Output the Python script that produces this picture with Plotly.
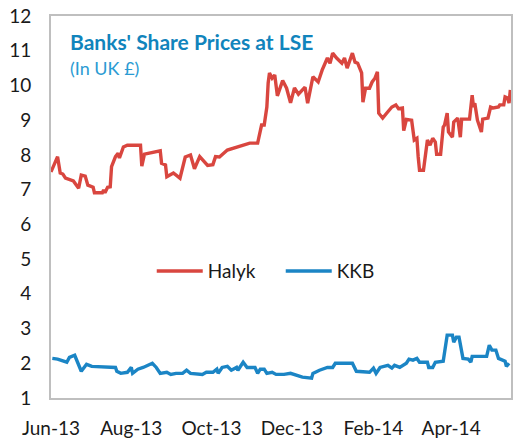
import plotly.graph_objects as go

halyk_dates = [
    "2013-06-01", "2013-06-06", "2013-06-08", "2013-06-10", "2013-06-12", "2013-06-18",
    "2013-06-22", "2013-06-24", "2013-06-27", "2013-06-29", "2013-07-03", "2013-07-04",
    "2013-07-10", "2013-07-11", "2013-07-12", "2013-07-14", "2013-07-16", "2013-07-17",
    "2013-07-20", "2013-07-22", "2013-07-23", "2013-07-26", "2013-07-29", "2013-08-08",
    "2013-08-09", "2013-08-11", "2013-08-23", "2013-08-24", "2013-08-27", "2013-08-28",
    "2013-09-02", "2013-09-07", "2013-09-11", "2013-09-15", "2013-09-18", "2013-09-22",
    "2013-09-28", "2013-10-02", "2013-10-04", "2013-10-07", "2013-10-13", "2013-10-20",
    "2013-10-24", "2013-10-30", "2013-11-05", "2013-11-06", "2013-11-08", "2013-11-10",
    "2013-11-12", "2013-11-13", "2013-11-14", "2013-11-16", "2013-11-18", "2013-11-20",
    "2013-11-24", "2013-11-27", "2013-11-30", "2013-12-03", "2013-12-06", "2013-12-11",
    "2013-12-13", "2013-12-17", "2013-12-21", "2013-12-24", "2013-12-28", "2013-12-30",
    "2014-01-01", "2014-01-04", "2014-01-08", "2014-01-10", "2014-01-12", "2014-01-16",
    "2014-01-18", "2014-01-20", "2014-01-23", "2014-01-24", "2014-01-26", "2014-01-29",
    "2014-01-31", "2014-02-02", "2014-02-04", "2014-02-05", "2014-02-08", "2014-02-11",
    "2014-02-15", "2014-02-18", "2014-02-20", "2014-02-23", "2014-02-24", "2014-02-26",
    "2014-03-02", "2014-03-04", "2014-03-06", "2014-03-07", "2014-03-08", "2014-03-11",
    "2014-03-12", "2014-03-14", "2014-03-16", "2014-03-18", "2014-03-20", "2014-03-21",
    "2014-03-24", "2014-03-26", "2014-03-27", "2014-03-29", "2014-03-30", "2014-04-02",
    "2014-04-03", "2014-04-06", "2014-04-08", "2014-04-09", "2014-04-15", "2014-04-17",
    "2014-04-18", "2014-04-19", "2014-04-21", "2014-04-24", "2014-04-25", "2014-04-29",
    "2014-05-01", "2014-05-03", "2014-05-07", "2014-05-08", "2014-05-11", "2014-05-12",
    "2014-05-14", "2014-05-15", "2014-05-16",
]
halyk_values = [
    7.51, 7.95, 7.48, 7.45, 7.33, 7.25,
    7.04, 7.42, 7.39, 7.13, 7.07, 6.91,
    6.91, 6.99, 6.91, 7.07, 7.08, 7.66,
    7.95, 8.05, 7.91, 8.23, 8.28, 8.28,
    7.68, 8.02, 8.12, 7.76, 7.71, 7.37,
    7.48, 7.33, 7.94, 8.00, 7.60, 7.95,
    7.70, 7.72, 7.95, 7.94, 8.14, 8.22,
    8.25, 8.34, 8.34, 8.50, 8.86, 8.86,
    9.38, 10.07, 10.36, 10.21, 10.30, 9.70,
    10.14, 9.92, 9.50, 9.93, 9.75, 9.95,
    9.49, 10.25, 10.10, 10.44, 10.79, 10.64,
    10.93, 10.79, 10.64, 10.79, 10.50, 10.93,
    10.67, 10.64, 10.36, 9.52, 9.92, 9.92,
    10.10, 10.20, 10.39, 9.20, 9.06, 9.20,
    9.38, 9.44, 9.33, 9.35, 8.70, 9.02,
    9.00, 8.43, 8.48, 7.94, 7.56, 7.56,
    7.85, 8.43, 8.28, 8.48, 8.37, 8.02,
    8.02, 8.80, 8.86, 9.20, 8.66, 8.51,
    8.95, 9.06, 8.51, 9.03, 9.03, 9.72,
    9.38, 9.49, 9.00, 8.66, 9.03, 9.06,
    9.38, 9.35, 9.38, 9.44, 9.44, 9.67,
    9.64, 9.49, 9.87,
]

kkb_dates = [
    "2013-06-02", "2013-06-06", "2013-06-13", "2013-06-15", "2013-06-19", "2013-06-21",
    "2013-06-24", "2013-06-28", "2013-07-02", "2013-07-20", "2013-07-21", "2013-07-24",
    "2013-07-29", "2013-08-01", "2013-08-02", "2013-08-06", "2013-08-10", "2013-08-17",
    "2013-08-20", "2013-08-23", "2013-08-28", "2013-08-31", "2013-09-04", "2013-09-09",
    "2013-09-12", "2013-09-15", "2013-09-24", "2013-09-27", "2013-10-02", "2013-10-05",
    "2013-10-06", "2013-10-09", "2013-10-13", "2013-10-16", "2013-10-20", "2013-10-21",
    "2013-10-25", "2013-10-28", "2013-11-03", "2013-11-05", "2013-11-07", "2013-11-10",
    "2013-11-12", "2013-11-16", "2013-11-19", "2013-11-25", "2013-11-30", "2013-12-09",
    "2013-12-16", "2013-12-17", "2013-12-22", "2013-12-28", "2014-01-01", "2014-01-03",
    "2014-01-16", "2014-01-19", "2014-01-29", "2014-02-01", "2014-02-03", "2014-02-06",
    "2014-02-09", "2014-02-12", "2014-02-15", "2014-02-17", "2014-02-21", "2014-02-23",
    "2014-02-26", "2014-02-28", "2014-03-03", "2014-03-06", "2014-03-08", "2014-03-14",
    "2014-03-15", "2014-03-18", "2014-03-20", "2014-03-26", "2014-03-27", "2014-03-29",
    "2014-04-02", "2014-04-03", "2014-04-05", "2014-04-07", "2014-04-10", "2014-04-14",
    "2014-04-16", "2014-04-17", "2014-04-28", "2014-04-30", "2014-05-02", "2014-05-05",
    "2014-05-07", "2014-05-12", "2014-05-13", "2014-05-15",
]
kkb_values = [
    2.14, 2.12, 2.03, 2.17, 2.23, 2.03,
    1.77, 1.97, 1.91, 1.88, 1.77, 1.71,
    1.74, 1.88, 1.71, 1.83, 1.88, 2.00,
    1.88, 1.71, 1.74, 1.68, 1.71, 1.71,
    1.80, 1.71, 1.68, 1.74, 1.74, 1.83,
    1.71, 1.88, 1.91, 1.80, 1.88, 1.80,
    2.03, 1.88, 1.88, 1.71, 1.83, 1.83,
    1.71, 1.74, 1.68, 1.68, 1.71, 1.60,
    1.57, 1.71, 1.80, 1.88, 1.88, 2.00,
    2.00, 1.77, 1.74, 1.86, 1.71, 1.88,
    1.91, 1.94, 1.86, 1.94, 1.88, 1.94,
    2.00, 2.12, 2.09, 2.14, 2.03, 2.03,
    1.88, 1.88, 2.03, 2.06, 2.29, 2.81,
    2.81, 2.61, 2.75, 2.75, 2.14, 2.12,
    2.03, 2.20, 2.20, 2.52, 2.38, 2.38,
    2.14, 2.06, 1.91, 2.00,
]

x_range = ["2013-06-01", "2014-05-16 12:00"]
y_range = [1, 12]
tick_dates = ["2013-06-01", "2013-08-01", "2013-10-01", "2013-12-01", "2014-02-01", "2014-04-01"]
tick_labels = ["Jun-13", "Aug-13", "Oct-13", "Dec-13", "Feb-14", "Apr-14"]

RED = "#D9463F"
BLUE = "#1B85C5"
FONT = "Lato"

fig = go.Figure()
fig.add_trace(go.Scatter(x=halyk_dates, y=halyk_values, mode="lines", name="Halyk",
                         line=dict(color=RED, width=3.4)))
fig.add_trace(go.Scatter(x=kkb_dates, y=kkb_values, mode="lines", name="KKB",
                         line=dict(color=BLUE, width=3.4)))

fig.update_layout(
    width=515, height=444,
    margin=dict(l=51, r=4, t=16, b=46),
    paper_bgcolor="white", plot_bgcolor="white",
    font=dict(family=FONT, size=19, color="#1a1a1a"),
    showlegend=True,
    legend=dict(orientation="h", x=0.219, y=0.332, xanchor="left", yanchor="middle",
                font=dict(family=FONT, size=19, color="#1a1a1a"),
                bgcolor="rgba(0,0,0,0)", itemwidth=46, entrywidth=68),
    xaxis=dict(type="date", range=x_range, tickvals=tick_dates, ticktext=tick_labels,
               showgrid=False, zeroline=False, showline=True, mirror=True,
               linecolor="#BFBFBF", linewidth=2, ticks="", ticklabelstandoff=12,
               automargin=False),
    yaxis=dict(range=y_range, dtick=1, tick0=1, showgrid=False, zeroline=False,
               showline=True, mirror=True, linecolor="#BFBFBF", linewidth=2,
               ticks="", ticklabelstandoff=14, ticklabeloverflow="allow",
               automargin=False),
    annotations=[
        dict(text="<b>Banks' Share Prices at LSE</b>", xref="paper", yref="paper",
             x=0.037, y=0.932, xanchor="left", yanchor="middle", showarrow=False,
             font=dict(family=FONT, size=21, color="#1184BC")),
        dict(text="(In UK £)", xref="paper", yref="paper",
             x=0.037, y=0.864, xanchor="left", yanchor="middle", showarrow=False,
             font=dict(family=FONT, size=18, color="#2A9BD3")),
    ],
)

# remove the default 8px page margin so the figure fills the window exactly
fig.write_html("out.html", config={"displayModeBar": False},
               post_script="document.body.style.margin='0px';")
